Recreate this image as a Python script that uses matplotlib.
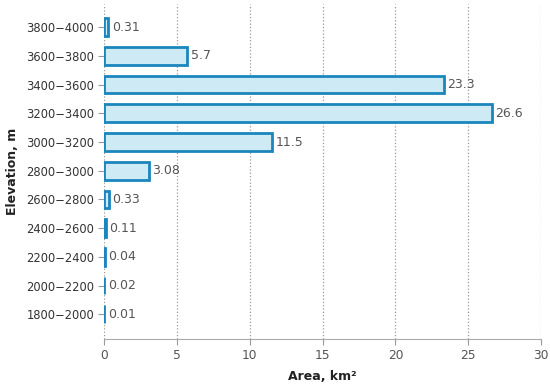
import matplotlib
matplotlib.use("Agg")
import matplotlib.pyplot as plt

categories = ["1800\u22122000", "2000\u22122200", "2200\u22122400", "2400\u22122600",
              "2600\u22122800", "2800\u22123000", "3000\u22123200", "3200\u22123400",
              "3400\u22123600", "3600\u22123800", "3800\u22124000"]
values = [0.01, 0.02, 0.04, 0.11, 0.33, 3.08, 11.5, 26.6, 23.3, 5.7, 0.31]
labels = ["0.01", "0.02", "0.04", "0.11", "0.33", "3.08", "11.5", "26.6", "23.3", "5.7", "0.31"]
xticks = [0, 5, 10, 15, 20, 25, 30]

fig = plt.figure(figsize=(5.5, 3.85), dpi=100)
ax = fig.add_axes([0.189, 0.119, 0.795, 0.87])

ypos = list(range(len(categories)))
ax.barh(ypos, values, height=0.62, color="#cdeaf5", edgecolor="#1a86bd", linewidth=2, zorder=3)
for y, v, l in zip(ypos, values, labels):
    ax.text(v + 0.25, y, l, va="center", ha="left", fontsize=9, color="#555555", zorder=4)

ax.set_yticks(ypos)
ax.set_yticklabels(categories, fontsize=8.3, color="#333333")
ax.set_xticks(xticks)
ax.set_xticklabels([str(t) for t in xticks], fontsize=8.8, color="#555555")
ax.set_xlim(0, 30)
ax.set_ylim(-0.87, 10.8)
ax.xaxis.grid(True, linestyle=":", color="#999999", linewidth=0.9, zorder=0)
for s in ["top", "right", "left"]:
    ax.spines[s].set_visible(False)
ax.spines["bottom"].set_color("#aaaaaa")
ax.tick_params(axis="both", colors="#999999", length=4, pad=3)
ax.tick_params(axis="x", labelcolor="#555555")
ax.tick_params(axis="y", labelcolor="#333333")
ax.set_xlabel("Area, km\u00b2", fontsize=9, fontweight="bold", color="#222222", labelpad=6)
ax.set_ylabel("Elevation, m", fontsize=9, fontweight="bold", color="#222222", labelpad=5)

fig.savefig("out.png", dpi=100)
